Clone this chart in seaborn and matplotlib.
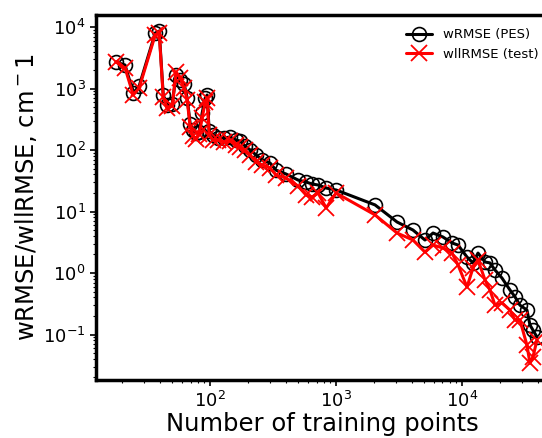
import numpy as np
import pandas as pd
import matplotlib
matplotlib.use("Agg")
import matplotlib.pyplot as plt
import seaborn as sns

n_train = [17.9, 21.1, 24.5, 27.3, 36.6, 39.4, 42.4, 45.6, 49.9, 53.7, 57.8, 62.2,
           65.7, 69.4, 73.3, 77.4, 81.8, 86.4, 91.3, 94.7, 98.2, 105.6, 115.7, 129,
           144, 161, 173, 190, 208, 232, 259, 299, 334, 401, 499, 578, 645, 720, 834,
           1000, 2040, 3050, 4080, 5080, 5890, 7060, 8340, 9300, 10960, 12230, 13400,
           15240, 16680, 18280, 20760, 24030, 26350, 28850, 32800, 34660, 36600, 39370]

wrmse_pes = [2700, 2410, 845, 1098, 7985, 8610, 784, 539, 560, 1658, 1375, 1184,
             701, 265, 211, 189, 196, 400, 701, 784, 204, 175, 157, 157,
             163, 145, 140, 116, 100, 83, 69, 61.5, 47, 40.7, 32.5, 30.2, 28, 27, 24.1,
             22.4, 12.8, 6.75, 5.0, 3.44, 4.47, 3.85, 3.08, 2.85, 1.82, 1.46, 2.11,
             1.51, 1.46, 1.12, 0.83, 0.53, 0.41, 0.30, 0.25, 0.143, 0.118, 0.091]

wllrmse_test = [2700, 2155, 784, 1019, 7410, 7985, 727, 482, 519, 1855, 1482, 1019,
                650, 236, 169, 151, 182, 331, 603, 701, 175, 145, 145, 135,
                140, 121, 112, 100, 83, 64, 57, 51, 39, 35, 26, 18.5, 17.2, 20, 11.4,
                20, 8.8, 4.47, 3.44, 2.19, 2.85, 2.55, 2.11, 1.35, 0.59, 1.21, 1.63,
                0.77, 0.53, 0.30, 0.325, 0.25, 0.172, 0.172, 0.067, 0.034, 0.043, 0.081]

df = pd.DataFrame({"n": n_train, "pes": wrmse_pes, "test": wllrmse_test})

sns.set_style("ticks")
plt.rcParams['font.family'] = ['DejaVu Sans']
plt.rcParams['text.color'] = 'black'
plt.rcParams['axes.labelcolor'] = 'black'
plt.rcParams['xtick.color'] = 'black'
plt.rcParams['ytick.color'] = 'black'

fig = plt.figure(figsize=(5.42, 4.38), dpi=100)
ax = fig.add_axes([96/542, 1 - 380/438, (548 - 96)/542, (380 - 15)/438])

sns.lineplot(data=df, x="n", y="pes", ax=ax, color="black", lw=2.2, marker="o",
             markersize=10, markerfacecolor="none", markeredgecolor="black",
             markeredgewidth=1.2, estimator=None, sort=False, label="wRMSE (PES)")
sns.lineplot(data=df, x="n", y="test", ax=ax, color="red", lw=2.2, marker="x",
             markersize=11, markeredgecolor="red", markeredgewidth=1.3,
             estimator=None, sort=False, label="wllRMSE (test)")

ax.set_xscale("log")
ax.set_yscale("log")
ax.set_xlim(12.4, 48200)
ax.set_ylim(0.0182, 15700)

for s in ["left", "bottom", "top"]:
    ax.spines[s].set_linewidth(2.5)
    ax.spines[s].set_color("black")
ax.spines["right"].set_visible(False)

ax.tick_params(axis="both", which="major", labelsize=13, length=4, width=1.2)
ax.tick_params(axis="both", which="minor", length=2.5, width=0.8)

ax.set_xlabel("Number of training points", fontsize=17.5, labelpad=1)
ax.set_ylabel(r"wRMSE/wllRMSE, cm$^-$1", fontsize=17.5, labelpad=3)

leg = ax.legend(loc="upper right", bbox_to_anchor=(0.996, 0.985), frameon=False,
                fontsize=9.5, handlelength=2, handletextpad=0.8, borderaxespad=0.2)

fig.savefig("out.png", dpi=100)
